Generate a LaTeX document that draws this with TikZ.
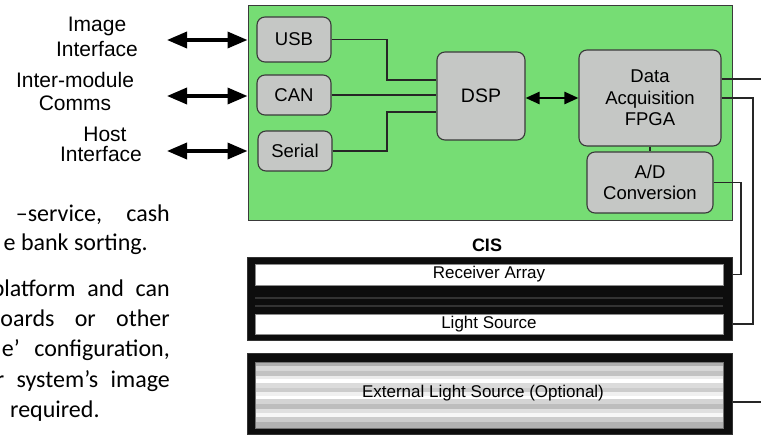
\documentclass[tikz,border=0pt]{standalone}
\usepackage{fontspec}
\setmainfont{Liberation Sans}
\newfontfamily\parafont{Carlito}
\usetikzlibrary{arrows.meta,calc}
\definecolor{boardgreen}{HTML}{76DD74}
\definecolor{boxgray}{HTML}{C5C7C5}
\definecolor{edgegray}{HTML}{3A3A3A}
\begin{document}
\begin{tikzpicture}[x=1pt,y=-1pt,
  board/.style={draw=edgegray, line width=1pt, fill=boardgreen, inner sep=0pt, minimum width=484pt, minimum height=215pt},
  blk/.style={draw=edgegray, line width=1.1pt, fill=boxgray, rounded corners=8pt, inner sep=0pt, align=center, font=\fontsize{18.5}{21.5}\selectfont},
  lbl/.style={font=\fontsize{21}{25}\selectfont, inner sep=0pt, anchor=base},
  para/.style={font=\parafont\fontsize{24}{30}\selectfont, inner sep=0pt},
  wire/.style={line width=1.1pt, draw=black!85},
  bigdbl/.style={line width=3.5pt, {Triangle[length=20pt,width=16pt]}-{Triangle[length=20pt,width=16pt]}},
  smalldbl/.style={line width=2.5pt, {Triangle[length=14pt,width=12pt]}-{Triangle[length=14pt,width=12pt]}},
  bartext/.style={font=\fontsize{17}{20}\selectfont},
  frame/.style={draw=black!80, fill=black!95, line width=1pt, inner sep=0pt, minimum width=485pt},
  whitebar/.style={fill=white, draw=black!45, line width=0.6pt, minimum width=468pt, inner sep=0pt, font=\fontsize{17}{20}\selectfont}
]
\useasboundingbox (0,0) rectangle (761,435);
\clip (0,0) rectangle (761,435);

% main board
\node[board] (board) at (490,113.5) {};
\node[blk, minimum width=74pt, minimum height=45pt] (usb) at (294,39.5) {USB};
\node[blk, minimum width=74pt, minimum height=40pt] (can) at (294,95) {CAN};
\node[blk, minimum width=74pt, minimum height=40pt] (serial) at (295,151) {Serial};
\node[blk, minimum width=88pt, minimum height=88pt, font=\fontsize{19.5}{22}\selectfont] (dsp) at (481,96) {DSP};
\node[blk, minimum width=142pt, minimum height=96pt] (fpga) at (650,98) {Data\\Acquisition\\FPGA};
\node[blk, minimum width=126pt, minimum height=61pt] (ad) at (650,182.5) {A/D\\Conversion};

% internal wiring
\draw[wire] (usb.east) -- (387,39.5) |- ([yshift=16pt]dsp.west);
\draw[wire] (can.east) -- (can.east -| dsp.west);
\draw[wire] (serial.east) -- (387,151) |- ([yshift=-16pt]dsp.west);
\draw[smalldbl] (dsp.east |- fpga.west) -- (fpga.west);
\draw[wire] (fpga.south) -- (ad.north);

% left interfaces
\coordinate (a1) at (167,40);
\coordinate (a2) at (167,96);
\coordinate (a3) at (167,151);
\draw[bigdbl] (a1) -- (a1 -| board.west);
\draw[bigdbl] (a2) -- (a2 -| board.west);
\draw[bigdbl] (a3) -- (a3 -| board.west);
\node[lbl] (t1a) at (97,32) {Image};
\node[lbl] (t1b) at (97,57) {Interface};
\node[lbl] (t2a) at (75,88) {Inter-module};
\node[lbl] (t2b) at (75,111) {Comms};
\node[lbl] (t3a) at (105,142) {Host};
\node[lbl] (t3b) at (101,162) {Interface};

% CIS
\node[font=\bfseries\fontsize{18}{20}\selectfont, inner sep=0pt] (cislbl) at (487,245) {CIS};
\node[frame, minimum height=83pt] (cis) at (489.5,299.5) {};
\fill[black!80] (255,297) rectangle (723,299);
\fill[black!80] (255,305) rectangle (723,307);
\node[whitebar, minimum height=21pt] (recv) at (489,274.5) {Receiver Array};
\node[whitebar, minimum height=20pt] (light) at (489,324) {Light Source};

% external light source
\node[frame, minimum height=81pt] (ext) at (489.5,394.5) {};
\foreach \ya/\yb/\g in {362/366/68, 366/371/84, 371/376/76, 376/379/92, 379/383/100, 383/388/86, 388/392/80, 392/396/94, 396/399/100, 399/404/83, 404/409/74, 409/413/88, 413/417/97, 417/422/80, 422/428/70}{
  \fill[white!\g!black] (255,\ya) rectangle (723,\yb);
}
\draw[black!55, line width=0.8pt] (255,362) rectangle (723,428);
\node[bartext, inner sep=0pt] (extlbl) at (483,393) {External Light Source (Optional)};

% outgoing wires
\coordinate (o1) at (766,79);
\coordinate (o2) at (766,402);
\draw[wire] ([yshift=19pt]fpga.east) -- (o1);
\draw[wire] (fpga.east) -- (753,98) |- (cis.east |- light.center);
\draw[wire] (ad.east) -- (741,182.5) |- (cis.east |- recv.center);
\draw[wire] (ext.east |- o2) -- (o2);

% paragraph fragments
\node[para, anchor=base east] (p1) at (170,222) {\makebox[154pt][s]{–service, cash}};
\node[para, anchor=base east] (p2) at (148,251) {e bank sorting.};
\node[para, anchor=base east] (p3) at (170,297) {\makebox[178pt][s]{platform and can}};
\node[para, anchor=base east] (p4) at (170,327) {\makebox[182pt][s]{boards or other}};
\node[para, anchor=base east] (p5) at (170,357) {\makebox[168pt][s]{e’ configuration,}};
\node[para, anchor=base east] (p6) at (170,388) {\makebox[174pt][s]{r system’s image}};
\node[para, anchor=base west] (p7) at (10,418) {required.};
\end{tikzpicture}
\end{document}
